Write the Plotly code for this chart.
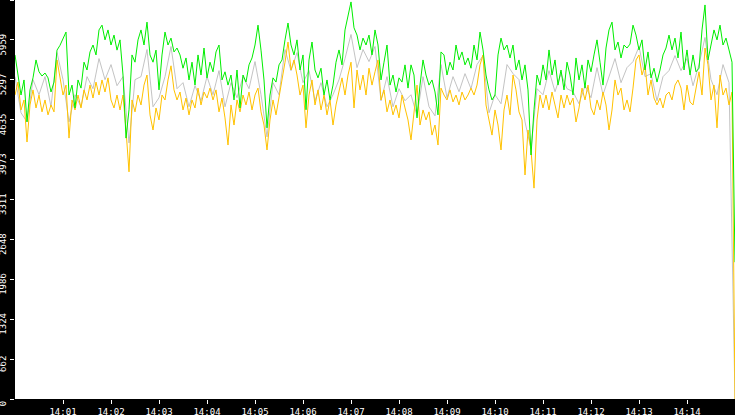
import pandas as pd
import plotly.graph_objects as go

# samples every 3.75 s from 14:00:00 to 14:15:00
green_vals = [
    5710, 5377, 5045, 5295, 4600, 5130, 5330, 5627, 5430, 5360,
    5410, 5330, 5095, 5260, 5790, 5870, 5990, 6090, 5045, 5210,
    4830, 5295, 5160, 5590, 5460, 5760, 5875, 5710, 6125, 6205,
    5960, 6125, 5875, 6040, 5790, 5960, 5377, 4330, 4800, 5710,
    5590, 5960, 6125, 5875, 6255, 5710, 5590, 5790, 5130, 5710,
    6090, 5875, 5990, 5760, 5825, 5710, 5490, 5660, 5295, 5590,
    5210, 5710, 5377, 5825, 5330, 5590, 5430, 5760, 5875, 5295,
    5430, 5210, 5377, 4963, 5460, 4830, 5377, 5260, 5545, 5660,
    5875, 6205, 5790, 5295, 4500, 5045, 5330, 5260, 5545, 5627,
    5960, 6240, 5875, 5710, 5960, 5460, 5710, 4800, 5627, 5925,
    5460, 5330, 5490, 5045, 5295, 4963, 5210, 5590, 5793, 5545,
    6125, 6375, 6590, 6160, 6040, 5793, 5990, 5875, 6040, 5710,
    6125, 5875, 5295, 5590, 5875, 5210, 5377, 5095, 5330, 5260,
    5545, 5160, 5545, 5377, 4665, 5210, 5627, 5377, 5210, 5295,
    5095, 4715, 5760, 5710, 5377, 5590, 5460, 5875, 5627, 5760,
    5545, 5660, 5490, 5875, 5627, 6090, 5793, 5377, 5130, 4963,
    5045, 5710, 5990, 5793, 5875, 5660, 5875, 5460, 5627, 5295,
    5545, 5130, 4050, 4800, 5377, 5210, 5545, 5295, 5793, 5377,
    5627, 5210, 5460, 5130, 5590, 5377, 5045, 5660, 5295, 5545,
    5160, 5627, 5430, 5710, 5960, 5590, 5210, 5825, 6125, 6255,
    5793, 5925, 5660, 5875, 5825, 5890, 6205, 6040, 5793, 5960,
    5460, 5760, 5330, 5490, 5260, 5460, 5710, 5825, 6040, 5793,
    5990, 5660, 6090, 5460, 5793, 5377, 5710, 5430, 5490, 6125,
    6540, 5627, 5875, 6125, 5960, 6205, 5875, 5990, 5793, 5590,
    2270,
]

yellow_vals = [
    5045, 5260, 4797, 4963, 4265, 4880, 5130, 4830, 5045, 4765,
    4963, 4715, 4880, 4765, 5627, 5295, 5045, 5210, 4330, 4963,
    4797, 5045, 4830, 5130, 4963, 5210, 4995, 5260, 5045, 5295,
    5095, 5330, 4963, 4830, 5045, 4797, 5045, 4465, 3770, 4963,
    4765, 5045, 4880, 5210, 5377, 4715, 4465, 4830, 4631, 5045,
    4963, 5295, 5530, 5130, 4963, 5095, 4797, 4995, 4715, 4963,
    4830, 5160, 4880, 5095, 4995, 5160, 4963, 5130, 4765, 4995,
    4665, 4215, 4880, 4547, 4963, 4765, 5045, 4880, 5095, 4797,
    5045, 5160, 4765, 4547, 4133, 4631, 4963, 4715, 4995, 5295,
    5590, 5925, 5460, 5627, 5377, 5045, 5210, 4500, 5045, 5295,
    4880, 5130, 4797, 5045, 4715, 4963, 4547, 4880, 5130, 5330,
    5045, 5377, 5590, 4830, 5460, 5130, 5377, 5045, 5490, 5210,
    5430, 5627, 4963, 5130, 4765, 4963, 4715, 4880, 4665, 5045,
    4830, 4631, 4300, 4715, 5210, 4547, 4797, 4631, 4765, 4380,
    4547, 4215, 5160, 5045, 4963, 5130, 4930, 5045, 4880, 5095,
    4963, 5045, 5160, 5045, 5210, 5545, 5710, 4880, 4631, 4380,
    4797, 4547, 4133, 4797, 5045, 4715, 5377, 5130, 4765, 4631,
    3718, 4465, 4133, 3500, 4631, 5045, 4830, 5045, 4797, 5095,
    4880, 4665, 5045, 4830, 5045, 4880, 4995, 4597, 4830, 5160,
    4963, 5210, 4830, 4715, 4963, 4797, 5095, 4880, 4465, 4797,
    5295, 5045, 5160, 4797, 4963, 4765, 5160, 5627, 5710, 5377,
    5545, 5045, 5295, 4995, 4880, 4995, 4830, 5045, 5095, 4963,
    5210, 5295, 5160, 4797, 5210, 4930, 4880, 5130, 5430, 5045,
    5825, 5545, 4963, 5210, 4500, 5377, 5045, 5160, 4880, 5095,
    0,
]

# thin gray series, sampled every 7.5 s
gray_vals = [
    5350, 4750, 4600, 5300, 5050, 5350, 4850, 5750, 5300, 4600,
    5050, 4850, 5350, 5150, 5650, 5300, 5550, 5200, 5350, 4250,
    5300, 5350, 5800, 4850, 5000, 5350, 5850, 5150, 5250, 4850,
    5200, 4950, 5350, 5050, 5450, 4850, 5250, 5000, 5350, 5150,
    5600, 5050, 4350, 5250, 5050, 5800, 5450, 5750, 5250, 5450,
    4950, 5250, 4850, 5050, 5300, 5650, 6050, 5500, 5800, 5600,
    5850, 4950, 5350, 4850, 5150, 4950, 5050, 4700, 5350, 4850,
    4700, 5550, 5000, 5350, 5100, 5400, 5150, 5550, 5700, 4750,
    5050, 4900, 5550, 5400, 5300, 4600, 4150, 5150, 5050, 5450,
    5100, 5400, 5150, 5100, 4900, 5200, 5000, 5500, 5050, 5350,
    5650, 5250, 5500, 5600, 5850, 5350, 5400, 4950, 5350, 5450,
    5700, 5450, 5650, 5200, 5550, 6000, 5300, 5050, 5550, 5250,
    0,
]

y_ticks = [0, 662, 1324, 1986, 2648, 3311, 3973, 4635, 5297, 5959, 6622]
x_tick_labels = ['14:01', '14:02', '14:03', '14:04', '14:05', '14:06', '14:07',
                 '14:08', '14:09', '14:10', '14:11', '14:12', '14:13', '14:14']

day = '2024-01-01 '
t_main = pd.date_range(day + '14:00:00', periods=len(green_vals), freq='3750ms')
t_gray = pd.date_range(day + '14:00:00', periods=len(gray_vals), freq='7500ms')

fig = go.Figure()
fig.add_trace(go.Scatter(x=t_gray, y=gray_vals, mode='lines', name='gray',
                         line=dict(color='#b4b4b4', width=0.8)))
fig.add_trace(go.Scatter(x=t_main, y=yellow_vals, mode='lines', name='yellow',
                         line=dict(color='#ffc200', width=1)))
fig.add_trace(go.Scatter(x=t_main, y=green_vals, mode='lines', name='green',
                         line=dict(color='#00ee00', width=1)))

tick_font = dict(family='DejaVu Sans Mono', size=9, color='white')

fig.update_layout(
    width=735, height=415,
    margin=dict(l=15, r=0, t=0, b=16, pad=0),
    paper_bgcolor='black', plot_bgcolor='white',
    showlegend=False,
)
fig.update_xaxes(
    type='date', range=[day + '14:00:00', day + '14:15:00'],
    tickvals=[day + s + ':00' for s in x_tick_labels], ticktext=x_tick_labels,
    ticks='outside', ticklen=4, tickcolor='white', tickwidth=1,
    ticklabelstandoff=0,
    tickfont=tick_font, showgrid=False, zeroline=False, showline=False,
    automargin=False,
)
fig.update_yaxes(
    range=[0, 6622], tickvals=y_ticks, ticktext=[str(v) for v in y_ticks],
    ticks='outside', ticklen=4, tickcolor='white', tickwidth=1,
    tickangle=-90, ticklabelshift=6, ticklabelstandoff=0,
    tickfont=tick_font, showgrid=False, zeroline=False, showline=False,
    automargin=False,
)

# page body has an 8px default margin; remove it so the figure fills the window
fig.write_html("out.html", config={'displayModeBar': False},
               post_script="document.body.style.margin='0';document.body.style.background='black';")
